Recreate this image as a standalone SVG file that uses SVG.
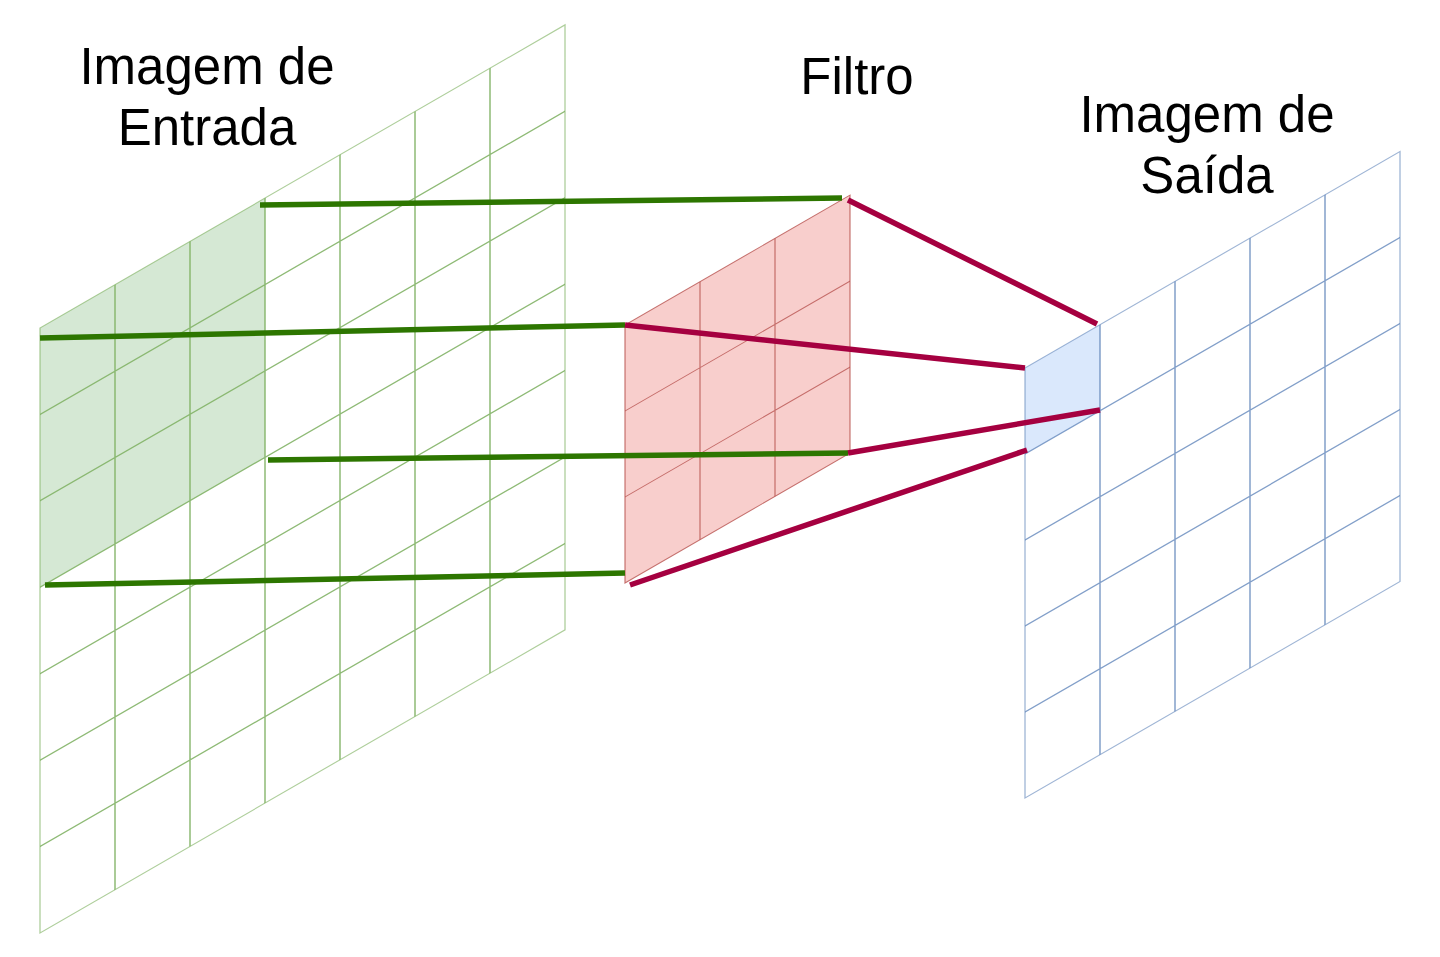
<svg xmlns="http://www.w3.org/2000/svg" width="1440" height="957" viewBox="0 0 1440 957">
<style>
.g{stroke:#82b366;stroke-width:1.5;fill:none;opacity:0.9}
.go{stroke:#82b366;stroke-width:1.3;fill:none;opacity:0.65}
.r{stroke:#b85450;stroke-width:1.2;fill:none;opacity:0.8}
.b{stroke:#6c8ebf;stroke-width:1.5;fill:none;opacity:0.85}
.bo{stroke:#6c8ebf;stroke-width:1.3;fill:none;opacity:0.65}
.cg{stroke:#2d7600;stroke-width:5.5;fill:none}
.cr{stroke:#a50040;stroke-width:5.5;fill:none}
.t{font-family:"Liberation Sans",Arial,sans-serif;font-size:51px;fill:#000;text-anchor:middle}
</style>
<rect width="1440" height="957" fill="#fff"/>
<g id="input-image" transform="translate(40,328) skewY(-30)">
<rect x="0" y="0" width="225" height="259.3" fill="#d5e8d4" stroke="none"/>
<path class="g" d="M75,0V605M150,0V605M225,0V605M300,0V605M375,0V605M450,0V605M0,86.43H525M0,172.86H525M0,259.29H525M0,345.71H525M0,432.14H525M0,518.57H525"/>
<rect class="go" x="0" y="0" width="525" height="605"/>
</g>
<g id="filter" transform="translate(625,325) skewY(-30)">
<rect x="0" y="0" width="225" height="258" fill="#f8cecc" stroke="none"/>
<path class="r" d="M75,0V258M150,0V258M0,86H225M0,172H225"/>
<rect class="r" x="0" y="0" width="225" height="258"/>
</g>
<g id="output-image" transform="translate(1025,368) skewY(-30)">
<rect x="0" y="0" width="75" height="86" fill="#dae8fc" stroke="none"/>
<path class="b" d="M75,0V430M150,0V430M225,0V430M300,0V430M0,86H375M0,172H375M0,258H375M0,344H375"/>
<rect class="bo" x="0" y="0" width="375" height="430"/>
</g>
<g id="connectors">
<line class="cg" x1="260" y1="205" x2="842" y2="198"/>
<line class="cg" x1="40" y1="338" x2="625" y2="325"/>
<line class="cg" x1="268" y1="460" x2="848" y2="453"/>
<line class="cg" x1="45" y1="585" x2="625" y2="573"/>
<line class="cr" x1="848" y1="200" x2="1097" y2="324"/>
<line class="cr" x1="625" y1="325" x2="1025" y2="368"/>
<line class="cr" x1="848" y1="453" x2="1100" y2="410"/>
<line class="cr" x1="630" y1="585" x2="1027" y2="450"/>
</g>
<g id="label-input"><text class="t" x="207" y="84">Imagem de</text><text class="t" x="207" y="145">Entrada</text></g>
<g id="label-filter"><text class="t" x="857" y="94">Filtro</text></g>
<g id="label-output"><text class="t" x="1207" y="132">Imagem de</text><text class="t" x="1207" y="193">Saída</text></g>
</svg>
